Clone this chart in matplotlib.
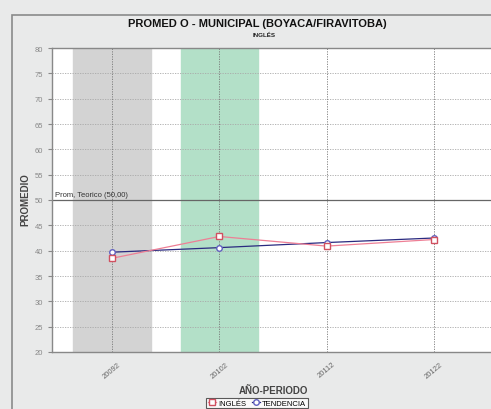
import numpy as np
import matplotlib.pyplot as plt
from matplotlib.patches import Rectangle

periodos = ['20092', '20102', '20112', '20122']
ingles = [38.5, 42.8, 40.9, 42.2]
tendencia = [39.7, 40.6, 41.6, 42.5]
prom_teorico = 50.0
bandas = [(0, '#d3d3d3'), (1, '#b3e0c8')]

plt.rcParams['font.family'] = ['Liberation Sans', 'DejaVu Sans']


def main():
  fig = plt.figure(figsize=(4.91, 4.10), dpi=100, facecolor='#e9eaea')
  # marco exterior
  fig.patches.append(Rectangle((12/491, -0.01), 1.0, 1 - 16/410 + 0.01, transform=fig.transFigure,
                               fill=False, edgecolor='#8a8a8a', lw=1.2))

  ax = fig.add_axes([52/491, 1 - 353/410, 442/491, 304/410])
  ax.set_facecolor('white')
  x = np.arange(len(periodos))

  for i, c in bandas:
    ax.axvspan(i - 0.36, i + 0.36, color=c, zorder=0)

  ax.set_ylim(20, 80)
  ax.set_xlim(-0.56, 3.56)
  ax.set_yticks(range(20, 81, 5))
  for v in range(25, 80, 5):
    if v != 50:
      ax.axhline(v, color='#a8a8a8', lw=0.6, ls=(0, (1.5, 1.5)), zorder=1)
  for xi in x:
    ax.axvline(xi, color='#777777', lw=0.6, ls=(0, (1.5, 1.5)), zorder=1)
  ax.axhline(prom_teorico, color='#666666', lw=0.9, zorder=2)
  ax.text(-0.53, prom_teorico + 0.8, 'Prom. Teorico ({:.2f})'.format(prom_teorico).replace('.', ','),
          fontsize=5.5, color='#333333')

  ax.plot(x, ingles, color='#ee7f95', lw=0.9, marker='s', ms=4, mfc='white', mec='#d05060',
          label='INGLÉS', zorder=4)
  ax.plot(x, tendencia, color='#2a2a80', lw=0.9, marker='o', ms=4, mfc='white', mec='#6060c0',
          label='TENDENCIA', zorder=3)

  ax.set_xticks(x)
  ax.set_xticklabels(periodos, rotation=40, fontsize=5.5, color='#666666')
  ax.tick_params(axis='y', labelsize=5.5, labelcolor='#888888', length=3, color='#888888')
  ax.tick_params(axis='x', length=0, pad=6)
  for s in ax.spines.values():
    s.set_color('#888888')
    s.set_linewidth(1.0)

  fig.text(257/491, 1 - 24/410, 'PROMED O - MUNICIPAL (BOYACA/FIRAVITOBA)', ha='center', va='center',
           fontsize=8, fontweight='bold', color='#111111')
  fig.text(264/491, 1 - 35/410, 'INGLÉS', ha='center', va='center', fontsize=4.5,
           fontweight='bold', color='#222222')
  fig.text(25/491, 1 - 200/410, 'PROMEDIO', rotation=90, ha='center', va='center',
           fontsize=7, fontweight='bold', color='#444444')
  fig.text(273/491, 1 - 391/410, 'AÑO-PERIODO', ha='center', va='center',
           fontsize=7, fontweight='bold', color='#444444')

  leg = fig.legend(loc='center', bbox_to_anchor=(257/491, 1 - 404/410), ncol=2, fontsize=5.5,
                   frameon=True, fancybox=False, edgecolor='#333333', handlelength=1.0,
                   columnspacing=0.8, handletextpad=0.3, borderpad=0.2)
  leg.get_frame().set_linewidth(0.8)

  fig.savefig('out.png', dpi=100, facecolor=fig.get_facecolor())


if __name__ == "__main__":
  main()
